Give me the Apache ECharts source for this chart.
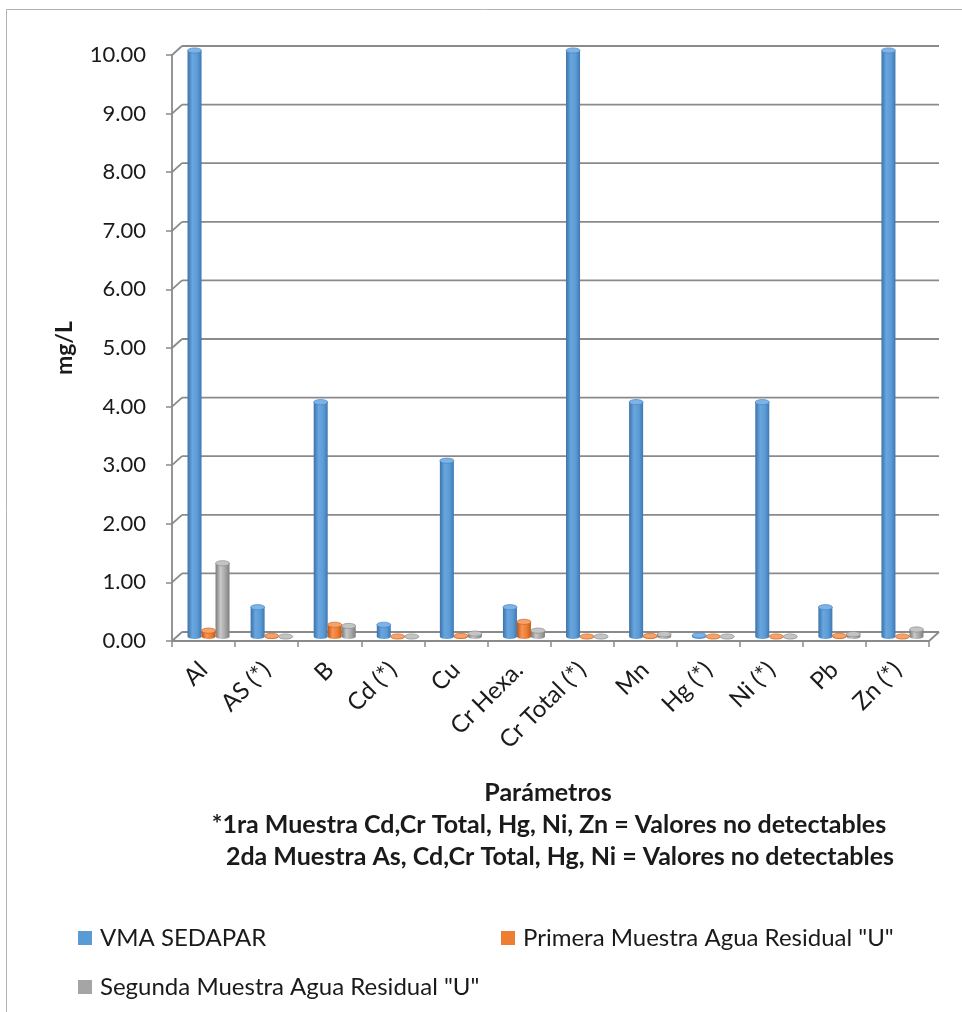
<!DOCTYPE html>
<html>
<head>
<meta charset="utf-8">
<title>Parámetros - mg/L</title>
<script src="https://cdn.jsdelivr.net/npm/echarts@6/dist/echarts.min.js"></script>
<style>
  html, body { margin: 0; padding: 0; background: #ffffff; }
  #chart { width: 962px; height: 1012px; }
</style>
</head>
<body>
<div id="chart"></div>
<script>
// Parameters measured (mg/L)
const categories = ['Al', 'AS (*)', 'B', 'Cd (*)', 'Cu', 'Cr Hexa.', 'Cr Total (*)', 'Mn', 'Hg (*)', 'Ni (*)', 'Pb', 'Zn (*)'];
const seriesNames = ['VMA SEDAPAR', 'Primera Muestra Agua Residual "U"', 'Segunda Muestra Agua Residual "U"'];
const vmaSedapar = [10, 0.5, 4, 0.2, 3, 0.5, 10, 4, 0.02, 4, 0.5, 10];
const primeraMuestra = [0.1, 0.01, 0.2, 0, 0.01, 0.25, 0, 0.01, 0, 0, 0.01, 0];
const segundaMuestra = [1.25, 0, 0.18, 0, 0.05, 0.1, 0, 0.04, 0, 0, 0.04, 0.12];
const yTicks = [0, 1, 2, 3, 4, 5, 6, 7, 8, 9, 10];
const axisTitle = 'Parámetros';
const noteLines = [
  '*1ra Muestra Cd,Cr Total, Hg, Ni, Zn = Valores no detectables',
  '2da Muestra As, Cd,Cr Total, Hg, Ni = Valores no detectables'
];

// pseudo-3D depth of the plot box (back wall offset from the front axes)
const DEPTH_X = 10;
const DEPTH_Y = -9;
const CAP_RY = 2.6;
const FONT = 'Lato, "Noto Sans", sans-serif';
const TEXT = '#1a1a1a';
const LINE = '#8a8a8a';

const palettes = [
  { base: '#5B9BD5', cap: '#7db3e6', rim: '#4a86c2', stops: ['#3b72aa', '#6aa6de', '#5b9bd5', '#3f78b3'] },
  { base: '#ED7D31', cap: '#f5a26b', rim: '#d0661f', stops: ['#bd5413', '#f59458', '#ed7d31', '#c45a17'] },
  { base: '#A5A5A5', cap: '#c4c4c4', rim: '#8f8f8f', stops: ['#7a7a7a', '#c8c8c8', '#a5a5a5', '#7f7f7f'] }
];

function cylinderSeries(name, values, slot) {
  const p = palettes[slot];
  const fill = {
    type: 'linear', x: 0, y: 0, x2: 1, y2: 0,
    colorStops: [
      { offset: 0, color: p.stops[0] },
      { offset: 0.35, color: p.stops[1] },
      { offset: 0.7, color: p.stops[2] },
      { offset: 1, color: p.stops[3] }
    ]
  };
  return {
    name: name,
    type: 'custom',
    coordinateSystem: 'cartesian2d',
    itemStyle: { color: p.base },
    encode: { x: 0, y: 1 },
    data: values.map((v, i) => [i, v]),
    z: 3,
    renderItem: function (params, api) {
      const i = api.value(0);
      const v = api.value(1);
      const foot = api.coord([i, 0]);
      const head = api.coord([i, v]);
      const band = api.size([1, 0])[0];
      const w = band * 0.222;
      const cx = foot[0] + DEPTH_X / 2 + (slot - 1) * w;
      const yb = foot[1] + DEPTH_Y / 2;
      const yt = head[1] + DEPTH_Y / 2;
      const rx = w / 2;
      const L = cx - rx, R = cx + rx;
      const body = 'M' + L + ',' + yt + ' L' + L + ',' + yb +
        ' A' + rx + ',' + CAP_RY + ' 0 0 0 ' + R + ',' + yb +
        ' L' + R + ',' + yt + ' Z';
      const cap = 'M' + L + ',' + yt +
        ' A' + rx + ',' + CAP_RY + ' 0 0 0 ' + R + ',' + yt +
        ' A' + rx + ',' + CAP_RY + ' 0 0 0 ' + L + ',' + yt + ' Z';
      return {
        type: 'group',
        children: [
          { type: 'path', shape: { pathData: body }, style: { fill: fill } },
          { type: 'path', shape: { pathData: cap }, style: { fill: p.cap, stroke: p.rim, lineWidth: 0.7 } }
        ]
      };
    }
  };
}

// back wall gridlines, side-wall connectors and floor edge
const wallSeries = {
  type: 'custom',
  coordinateSystem: 'cartesian2d',
  silent: true,
  z: 1,
  encode: { x: 0, y: 1 },
  data: yTicks.map(v => [0, v]),
  renderItem: function (params, api) {
    const cs = params.coordSys;
    const v = api.value(1);
    const y = api.coord([0, v])[1];
    const x0 = cs.x, x1 = cs.x + cs.width;
    const st = { stroke: LINE, lineWidth: 1.8 };
    const children = [
      { type: 'line', shape: { x1: x0, y1: y, x2: x0 + DEPTH_X, y2: y + DEPTH_Y }, style: st },
      { type: 'line', shape: { x1: x0 + DEPTH_X, y1: y + DEPTH_Y, x2: x1 + DEPTH_X, y2: y + DEPTH_Y }, style: st }
    ];
    if (v === 0) {
      children.push({ type: 'line', shape: { x1: x1, y1: y, x2: x1 + DEPTH_X, y2: y + DEPTH_Y }, style: st });
    }
    return { type: 'group', children: children };
  }
};

const chart = echarts.init(document.getElementById('chart'), null, { renderer: 'canvas' });

function legendAt(idx, left, top) {
  return {
    data: [seriesNames[idx]],
    left: left,
    top: top,
    icon: 'rect',
    itemWidth: 14,
    itemHeight: 14,
    padding: 0,
    selectedMode: false,
    textStyle: { fontFamily: FONT, fontSize: 24, color: TEXT, padding: [0, 0, 0, 3] }
  };
}

const boldFont = 'bold 25px ' + FONT;

chart.setOption({
  backgroundColor: '#ffffff',
  animation: false,
  textStyle: { fontFamily: FONT },
  grid: { left: 172, right: 33, top: 55, bottom: 371, containLabel: false },
  xAxis: {
    type: 'category',
    data: categories,
    axisLine: { show: true, lineStyle: { color: LINE, width: 1.8 } },
    axisTick: { show: true, length: 6, lineStyle: { color: LINE, width: 1.5 } },
    axisLabel: { rotate: 45, margin: 25, interval: 0, fontFamily: FONT, fontSize: 24, color: TEXT },
    splitLine: { show: false }
  },
  yAxis: {
    type: 'value',
    min: 0,
    max: 10,
    interval: 1,
    name: 'mg/L',
    nameLocation: 'middle',
    nameRotate: 90,
    nameGap: 96,
    nameTextStyle: { fontFamily: FONT, fontSize: 23, fontWeight: 'bold', color: TEXT },
    axisLine: { show: true, lineStyle: { color: LINE, width: 1.8 } },
    axisTick: { show: true, length: 6, lineStyle: { color: LINE, width: 1.5 } },
    axisLabel: { margin: 26, fontFamily: FONT, fontSize: 22, color: TEXT, formatter: v => v.toFixed(2) },
    splitLine: { show: false }
  },
  legend: [legendAt(0, 78, 926), legendAt(1, 501, 926), legendAt(2, 78, 975)],
  graphic: [
    { type: 'rect', silent: true, z: -10, shape: { x: 6.5, y: 9.5, width: 1000, height: 1050 },
      style: { fill: null, stroke: '#b3b3b3', lineWidth: 1 } },
    { type: 'text', silent: true, x: 548, y: 793,
      style: { text: axisTitle, font: boldFont, fill: TEXT, textAlign: 'center', textVerticalAlign: 'middle' } },
    { type: 'text', silent: true, x: 549, y: 825,
      style: { text: noteLines[0], font: boldFont, fill: TEXT, textAlign: 'center', textVerticalAlign: 'middle' } },
    { type: 'text', silent: true, x: 560, y: 857,
      style: { text: noteLines[1], font: boldFont, fill: TEXT, textAlign: 'center', textVerticalAlign: 'middle' } }
  ],
  series: [
    wallSeries,
    cylinderSeries(seriesNames[0], vmaSedapar, 0),
    cylinderSeries(seriesNames[1], primeraMuestra, 1),
    cylinderSeries(seriesNames[2], segundaMuestra, 2)
  ]
});
</script>
</body>
</html>
